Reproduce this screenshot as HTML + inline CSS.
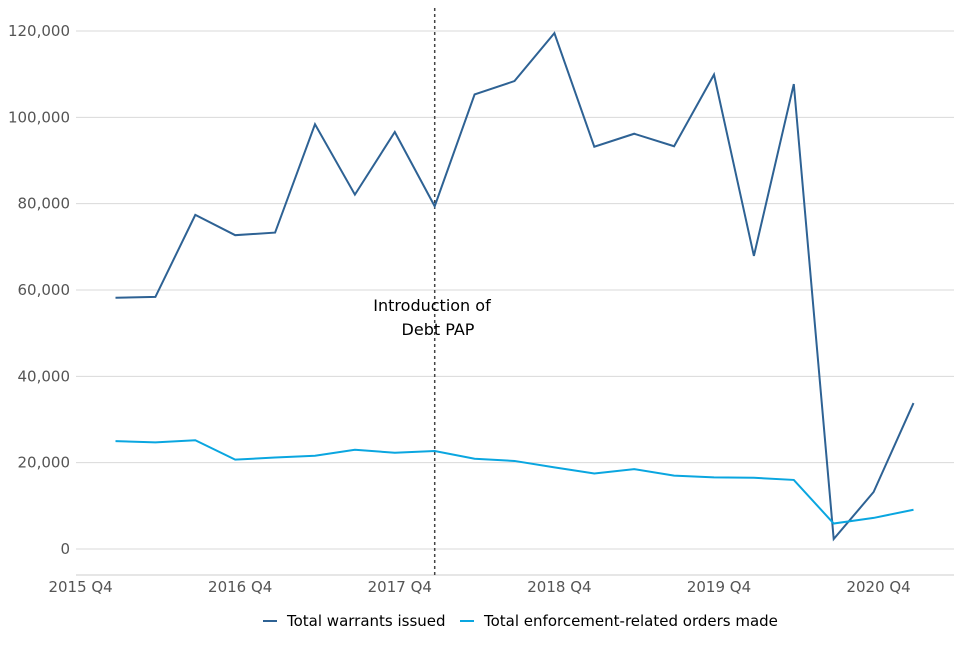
<!DOCTYPE html>
<html><head><meta charset="utf-8"><style>
body{margin:0;background:#fff;}
svg text{font-family:"DejaVu Sans","Liberation Sans",sans-serif;}
</style></head><body>
<svg id="chart" width="960" height="640"></svg>
<script>
const categories=["2016 Q1","2016 Q2","2016 Q3","2016 Q4","2017 Q1","2017 Q2","2017 Q3","2017 Q4","2018 Q1","2018 Q2","2018 Q3","2018 Q4","2019 Q1","2019 Q2","2019 Q3","2019 Q4","2020 Q1","2020 Q2","2020 Q3","2020 Q4","2021 Q1"];
const warrants=[58200,58400,77400,72700,73300,98400,82100,96600,79400,105300,108400,119500,93200,96200,93300,109900,67900,107700,2300,13200,33800];
const orders=[25000,24700,25200,20700,21200,21600,23000,22300,22700,20900,20400,18900,17500,18500,17000,16600,16500,16000,5900,7200,9100];
const yTicks=[0,20000,40000,60000,80000,100000,120000];
const xTickLabels=["2015 Q4","2016 Q4","2017 Q4","2018 Q4","2019 Q4","2020 Q4"];
const markerCategory="2018 Q1";

const svg=document.getElementById('chart');
const NS="http://www.w3.org/2000/svg";
const x=i=>115.5+39.9*i;
const y=v=>549-v*(518/120000);
function mk(t,a){const e=document.createElementNS(NS,t);for(const k in a)e.setAttribute(k,a[k]);svg.appendChild(e);return e;}

yTicks.forEach(v=>{
  const g=mk('line',{x1:76,x2:954,y1:y(v),y2:y(v),stroke:'#d9d9d9','stroke-width':1});
  
  
  const t=mk('text',{x:70,y:y(v)+5,'text-anchor':'end','font-size':15,fill:'#555'});
  t.textContent=v.toLocaleString('en-US');
  
  
});
const ax=mk('line',{x1:76,x2:954,y1:575,y2:575,stroke:'#ccc','stroke-width':1});


xTickLabels.forEach((l,k)=>{
  const t=mk('text',{x:x(-1+4*k)+5,y:592,'text-anchor':'middle','font-size':15,fill:'#555'});
  t.textContent=l;
  
  
});
const mi=categories.indexOf(markerCategory);
const dl=mk('line',{x1:x(mi),x2:x(mi),y1:8,y2:575,stroke:'#444','stroke-width':1.5,'stroke-dasharray':'3,3'});


const a1=mk('text',{x:432,y:311,'text-anchor':'middle','font-size':16,fill:'#000'});a1.textContent='Introduction of';


const a2=mk('text',{x:438,y:335,'text-anchor':'middle','font-size':16,fill:'#000'});a2.textContent='Debt PAP';



function line(data,color,name){
  const p=mk('polyline',{points:data.map((v,i)=>x(i)+','+y(v)).join(' '),fill:'none',stroke:color,'stroke-width':2});
  
  
}
line(warrants,'#2e6294','warrants-line');
line(orders,'#0aa6e0','orders-line');

function leg(x0,color,label,name){
  const l=mk('line',{x1:x0,x2:x0+14,y1:621,y2:621,stroke:color,'stroke-width':2});
  
  
  const t=mk('text',{x:x0+24,y:626,'font-size':15,fill:'#000'});t.textContent=label;
  
  
}
leg(263,'#2e6294','Total warrants issued','legend-warrants');
leg(460,'#0aa6e0','Total enforcement-related orders made','legend-orders');
</script>
</body></html>
